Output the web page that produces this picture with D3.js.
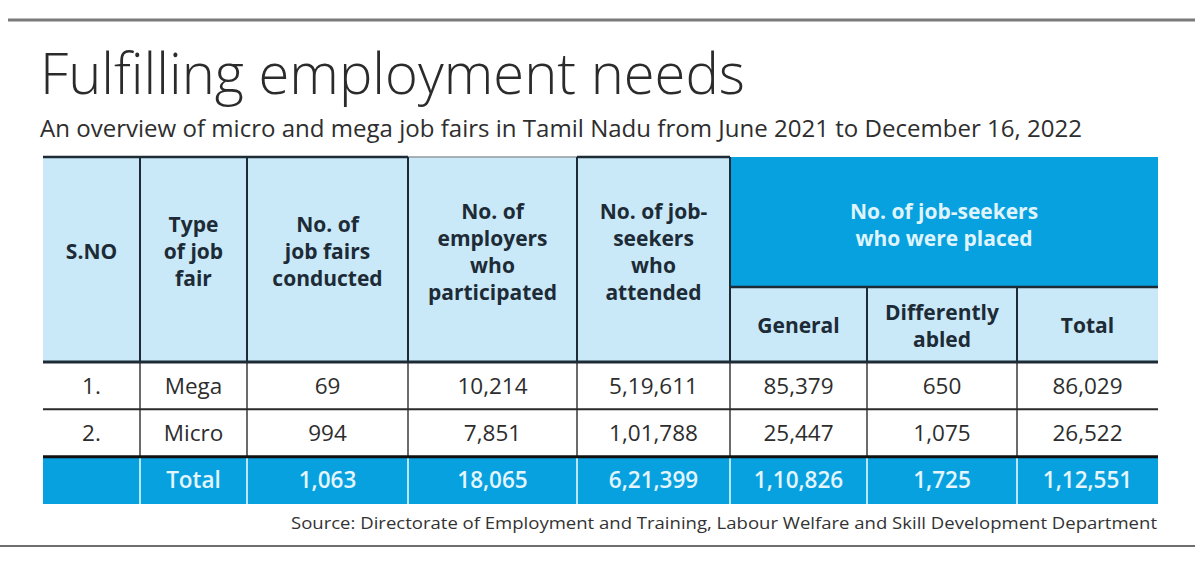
<!DOCTYPE html>
<html><head><meta charset="utf-8">
<script src="https://cdn.jsdelivr.net/npm/d3@7"></script>
<style>body{margin:0;background:#fff}svg{display:block}</style>
</head><body><svg id="c" width="1200" height="568"></svg>
<script>
// ---- data ----
const title = "Fulfilling employment needs";
const subtitle = "An overview of micro and mega job fairs in Tamil Nadu from June 2021 to December 16, 2022";
const source = "Source: Directorate of Employment and Training, Labour Welfare and Skill Development Department";
const serialNos = ["1.", "2."];
const fairTypes = ["Mega", "Micro"];
const fairsConducted = [69, 994];
const employersParticipated = [10214, 7851];
const seekersAttended = [519611, 101788];
const placedGeneral = [85379, 25447];
const placedDifferentlyAbled = [650, 1075];
const placedTotal = [86029, 26522];
const totalLabel = "Total";
const totals = [1063, 18065, 621399, 110826, 1725, 112551];
const headerLabels = [["S.NO"], ["Type","of job","fair"], ["No. of","job fairs","conducted"], ["No. of","employers","who","participated"], ["No. of job-","seekers","who","attended"]];
const groupHeader = ["No. of job-seekers", "who were placed"];
const subHeaders = [["General"], ["Differently","abled"], ["Total"]];

// ---- layout ----
const FONT = "'Open Sans', 'Noto Sans', sans-serif";
const colWidths = [97, 107, 161, 169, 153, 137, 150, 141];
const colEdges = [0, ...d3.cumsum(colWidths)];
const x = d3.scaleLinear().domain([0, d3.sum(colWidths)]).range([43, 1158]);
const edge = i => x(colEdges[i]);
const yHeadTop = 157, yGroupBottom = 287, yHeadBottom = 362;
const rowKeys = ["r0", "r1", "total"];
const y = d3.scaleBand().domain(rowKeys).range([yHeadBottom, 504]);

const LIGHT = "#c9e8f8", BLUE = "#08a1df", DARK = "#1d2b36";

function inr(n) {
  const s = String(n);
  if (s.length <= 3) return s;
  const rest = s.slice(0, -3), last3 = s.slice(-3);
  return rest.replace(/\B(?=(\d{2})+(?!\d))/g, ",") + "," + last3;
}

const svg = d3.select("#c");

// rules
svg.append("line").attr("x1", 8).attr("x2", 1195).attr("y1", 20).attr("y2", 20)
  .attr("stroke", "#7a7a7a").attr("stroke-width", 3);
svg.append("line").attr("x1", 0).attr("x2", 1195).attr("y1", 546).attr("y2", 546)
  .attr("stroke", "#6e6e6e").attr("stroke-width", 2);

// title
svg.append("text").text(title).attr("x", 40).attr("y", 94)
  .attr("font-family", FONT).attr("font-weight", 300).attr("font-size", 57)
  .attr("fill", "#2b2b2b").attr("textLength", 705).attr("lengthAdjust", "spacingAndGlyphs");
svg.append("text").text(subtitle).attr("x", 40).attr("y", 137)
  .attr("font-family", FONT).attr("font-size", 24)
  .attr("fill", "#2e2e2e").attr("textLength", 1042).attr("lengthAdjust", "spacingAndGlyphs");

// backgrounds
svg.append("rect").attr("x", edge(0)).attr("y", yHeadTop).attr("width", edge(5) - edge(0))
  .attr("height", yHeadBottom - yHeadTop).attr("fill", LIGHT);
svg.append("rect").attr("x", edge(5)).attr("y", yGroupBottom).attr("width", edge(8) - edge(5))
  .attr("height", yHeadBottom - yGroupBottom).attr("fill", LIGHT);
svg.append("rect").attr("x", edge(5)).attr("y", yHeadTop).attr("width", edge(8) - edge(5))
  .attr("height", yGroupBottom - yHeadTop).attr("fill", BLUE);
svg.append("rect").attr("x", edge(0)).attr("y", y("total")).attr("width", edge(8) - edge(0))
  .attr("height", y.bandwidth()).attr("fill", BLUE);

// grid lines
const g = svg.append("g");
function ln(x1, y1, x2, y2, c, w) {
  g.append("line").attr("x1", x1).attr("y1", y1).attr("x2", x2).attr("y2", y2)
    .attr("stroke", c).attr("stroke-width", w);
}
ln(edge(0), yHeadTop, edge(3), yHeadTop, DARK, 2.5);
ln(edge(3), yHeadTop, edge(4), yHeadTop, "#8f9aa1", 1.5);
ln(edge(4), yHeadTop, edge(5), yHeadTop, DARK, 2.5);
[1, 2, 3, 4, 5].forEach(i => ln(edge(i), yHeadTop, edge(i), yHeadBottom, DARK, 2));
[6, 7].forEach(i => ln(edge(i), yGroupBottom, edge(i), yHeadBottom, DARK, 2));
ln(edge(5), yGroupBottom, edge(8), yGroupBottom, DARK, 2.5);
[1, 2, 3, 4, 5, 6, 7].forEach(i => ln(edge(i), yHeadBottom, edge(i), y("total"), "#3a3a3a", 1.5));
[1, 2, 3, 4, 5, 6, 7].forEach(i => ln(edge(i), y("total"), edge(i), y("total") + y.bandwidth(), "#b8e6fa", 2));
ln(edge(0), yHeadBottom, edge(8), yHeadBottom, DARK, 3);
ln(edge(0), y("r1"), edge(8), y("r1"), "#2a2a2a", 2);
ln(edge(0), y("total"), edge(8), y("total"), "#111", 3);

// header text
const LH = 27;
function multiline(lines, cx, cy, fill, size, weight) {
  const t = svg.append("text").attr("text-anchor", "middle").attr("font-family", FONT)
    .attr("font-size", size).attr("font-weight", weight).attr("fill", fill);
  const y0 = cy - (lines.length - 1) * LH / 2;
  lines.forEach((l, i) => t.append("tspan").attr("x", cx).attr("y", y0 + i * LH).attr("dy", "0.35em").text(l));
}
headerLabels.forEach((lines, i) => multiline(lines, (edge(i) + edge(i + 1)) / 2, 252, DARK, 21, 700));
multiline(groupHeader, (edge(5) + edge(8)) / 2, 225, "#dff4fd", 21, 700);
subHeaders.forEach((lines, j) => multiline(lines, (edge(5 + j) + edge(6 + j)) / 2, 326, DARK, 21, 700));

// body
const rows = serialNos.map((s, i) => [s, fairTypes[i], inr(fairsConducted[i]), inr(employersParticipated[i]),
  inr(seekersAttended[i]), inr(placedGeneral[i]), inr(placedDifferentlyAbled[i]), inr(placedTotal[i])]);
rows.forEach((r, i) => {
  svg.append("g").selectAll("text").data(r).join("text")
    .attr("x", (d, j) => (edge(j) + edge(j + 1)) / 2)
    .attr("y", y(rowKeys[i]) + y.bandwidth() / 2).attr("dy", "0.35em")
    .attr("text-anchor", "middle").attr("font-family", FONT).attr("font-size", 22.5)
    .attr("fill", "#2d2d2d").text(d => d);
});
const totalRow = ["", totalLabel, ...totals.map(inr)];
svg.append("g").selectAll("text").data(totalRow).join("text")
  .attr("x", (d, j) => (edge(j) + edge(j + 1)) / 2)
  .attr("y", y("total") + y.bandwidth() / 2).attr("dy", "0.35em")
  .attr("text-anchor", "middle").attr("font-family", FONT).attr("font-size", 22.5).attr("font-weight", 600)
  .attr("fill", "#e3f5fd").text(d => d);

// source
svg.append("text").text(source).attr("x", 1157).attr("y", 529).attr("text-anchor", "end")
  .attr("font-family", FONT).attr("font-size", 17).attr("fill", "#333")
  .attr("textLength", 866).attr("lengthAdjust", "spacingAndGlyphs");
</script></body></html>
